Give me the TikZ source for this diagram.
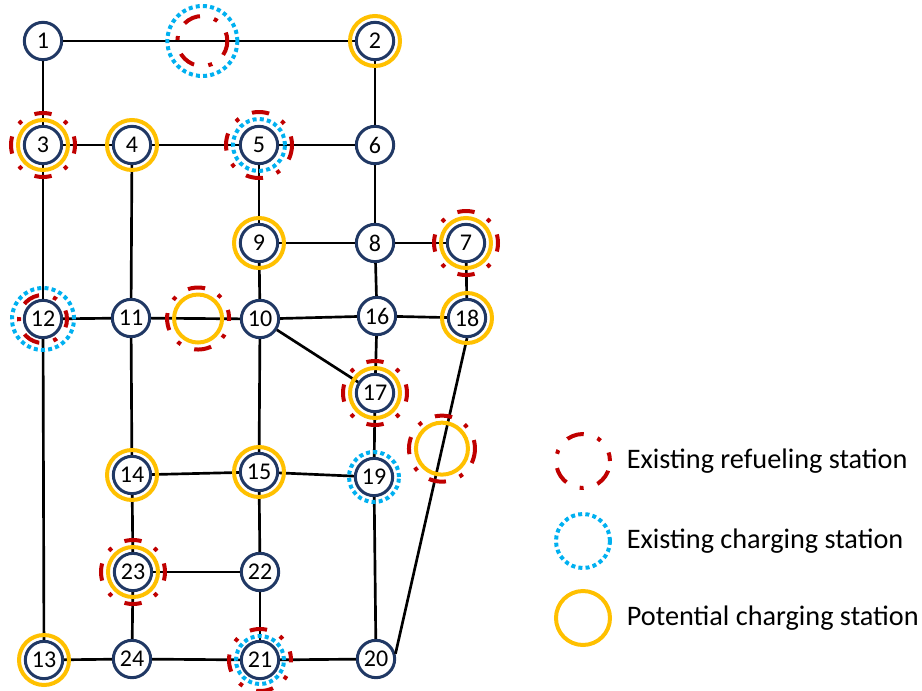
\documentclass[tikz,border=0pt]{standalone}
\usepackage{fontspec}
\setmainfont{Carlito}
\usetikzlibrary{positioning,calc}

\definecolor{navy}{HTML}{203864}
\definecolor{fuelred}{HTML}{C00000}
\definecolor{chargeblue}{HTML}{00B0F0}
\definecolor{potyellow}{HTML}{FFC000}

\tikzset{
  vertex/.style={circle, draw=navy, line width=2.25pt, fill=white, minimum size=28pt, inner sep=0pt, font=\fontsize{18}{18}\selectfont},
  road/.style={line width=2pt},
  refuel/.style={circle, draw=fuelred, line width=3pt, inner sep=0pt, minimum size=1.5pt*#1, dash pattern=on 13pt off 10.85pt on 3pt off 10.85pt, dash phase=6.5pt},
  charge/.style={circle, draw=chargeblue, line width=3pt, inner sep=0pt, minimum size=1.5pt*#1, dash pattern=on 3pt off 2.4pt},
  potential/.style={circle, draw=potyellow, line width=3pt, inner sep=0pt, minimum size=1.5pt*#1},
  legendtext/.style={font=\fontsize{21.2}{22}\selectfont, inner sep=0pt}
}

\begin{document}
\begin{tikzpicture}[x=0.75pt, y=-0.75pt]
  \useasboundingbox (0,0) rectangle (922,690);

  \foreach \n/\x/\y in {1/43/41, 2/375/41, 3/43/145, 4/132/145, 5/259/145, 6/375/145,
      7/466/243, 8/375/243, 9/259/243, 10/260/319, 11/131/318, 12/43/319,
      13/44/660, 14/132/475, 15/259/472, 16/377/316, 17/375/393, 18/467/318,
      19/374/477, 20/376/659, 21/260/660, 22/260/572, 23/133/572, 24/132/659}
    \node[vertex] (n\n) at (\x,\y) {\n};

  \foreach \a/\b in {1/2, 1/3, 2/6, 3/4, 4/5, 5/6, 3/12, 4/11, 5/9, 6/8, 9/8, 8/7,
      7/18, 8/16, 9/10, 12/11, 11/10, 10/16, 16/18, 10/17, 16/17, 17/19, 11/14,
      10/15, 14/15, 15/19, 14/23, 15/22, 23/22, 22/21, 19/20, 12/13, 13/24,
      23/24, 24/21, 21/20}
    \draw[road] (n\a) -- (n\b);
  \draw[road] (n18.south) -- (n20.15);

  \coordinate (s12) at ($(n1)!0.48!(n2)$);
  \coordinate (s1110) at ($(n11)!0.52!(n10)$);
  \coordinate (s1820) at ($(n18.south)!0.35!(n20.15)$);

  \foreach \n in {2,3,4,7,9,13,14,15,17,18,23}
    \node[potential=25] at (n\n) {};
  \foreach \n in {3,7,17,23}
    \node[refuel=32] at (n\n) {};
  \node[charge=26] at (n5) {};
  \node[refuel=33] at (n5) {};
  \node[refuel=24] at (n12) {};
  \node[charge=31] at (n12) {};
  \node[charge=24] at (n21) {};
  \node[refuel=31] at (n21) {};
  \node[charge=25] at (n19) {};

  \node[refuel=25] at (s12) {};
  \node[charge=35] at (s12) {};
  \node[potential=24] at (s1110) {};
  \node[refuel=31] at (s1110) {};
  \node[potential=26] at (s1820) {};
  \node[refuel=33] at (s1820) {};

  \node[refuel=27] (lgfuel) at (583,461) {};
  \node[charge=27] (lgcharge) at (583,541) {};
  \node[potential=27] (lgpot) at (583,618) {};
  \node[legendtext, right=11pt of lgfuel] (txtfuel) {Existing refueling station};
  \node[legendtext, right=11pt of lgcharge] (txtcharge) {Existing charging station};
  \node[legendtext, right=11pt of lgpot] (txtpot) {Potential charging station};
\end{tikzpicture}
\end{document}
